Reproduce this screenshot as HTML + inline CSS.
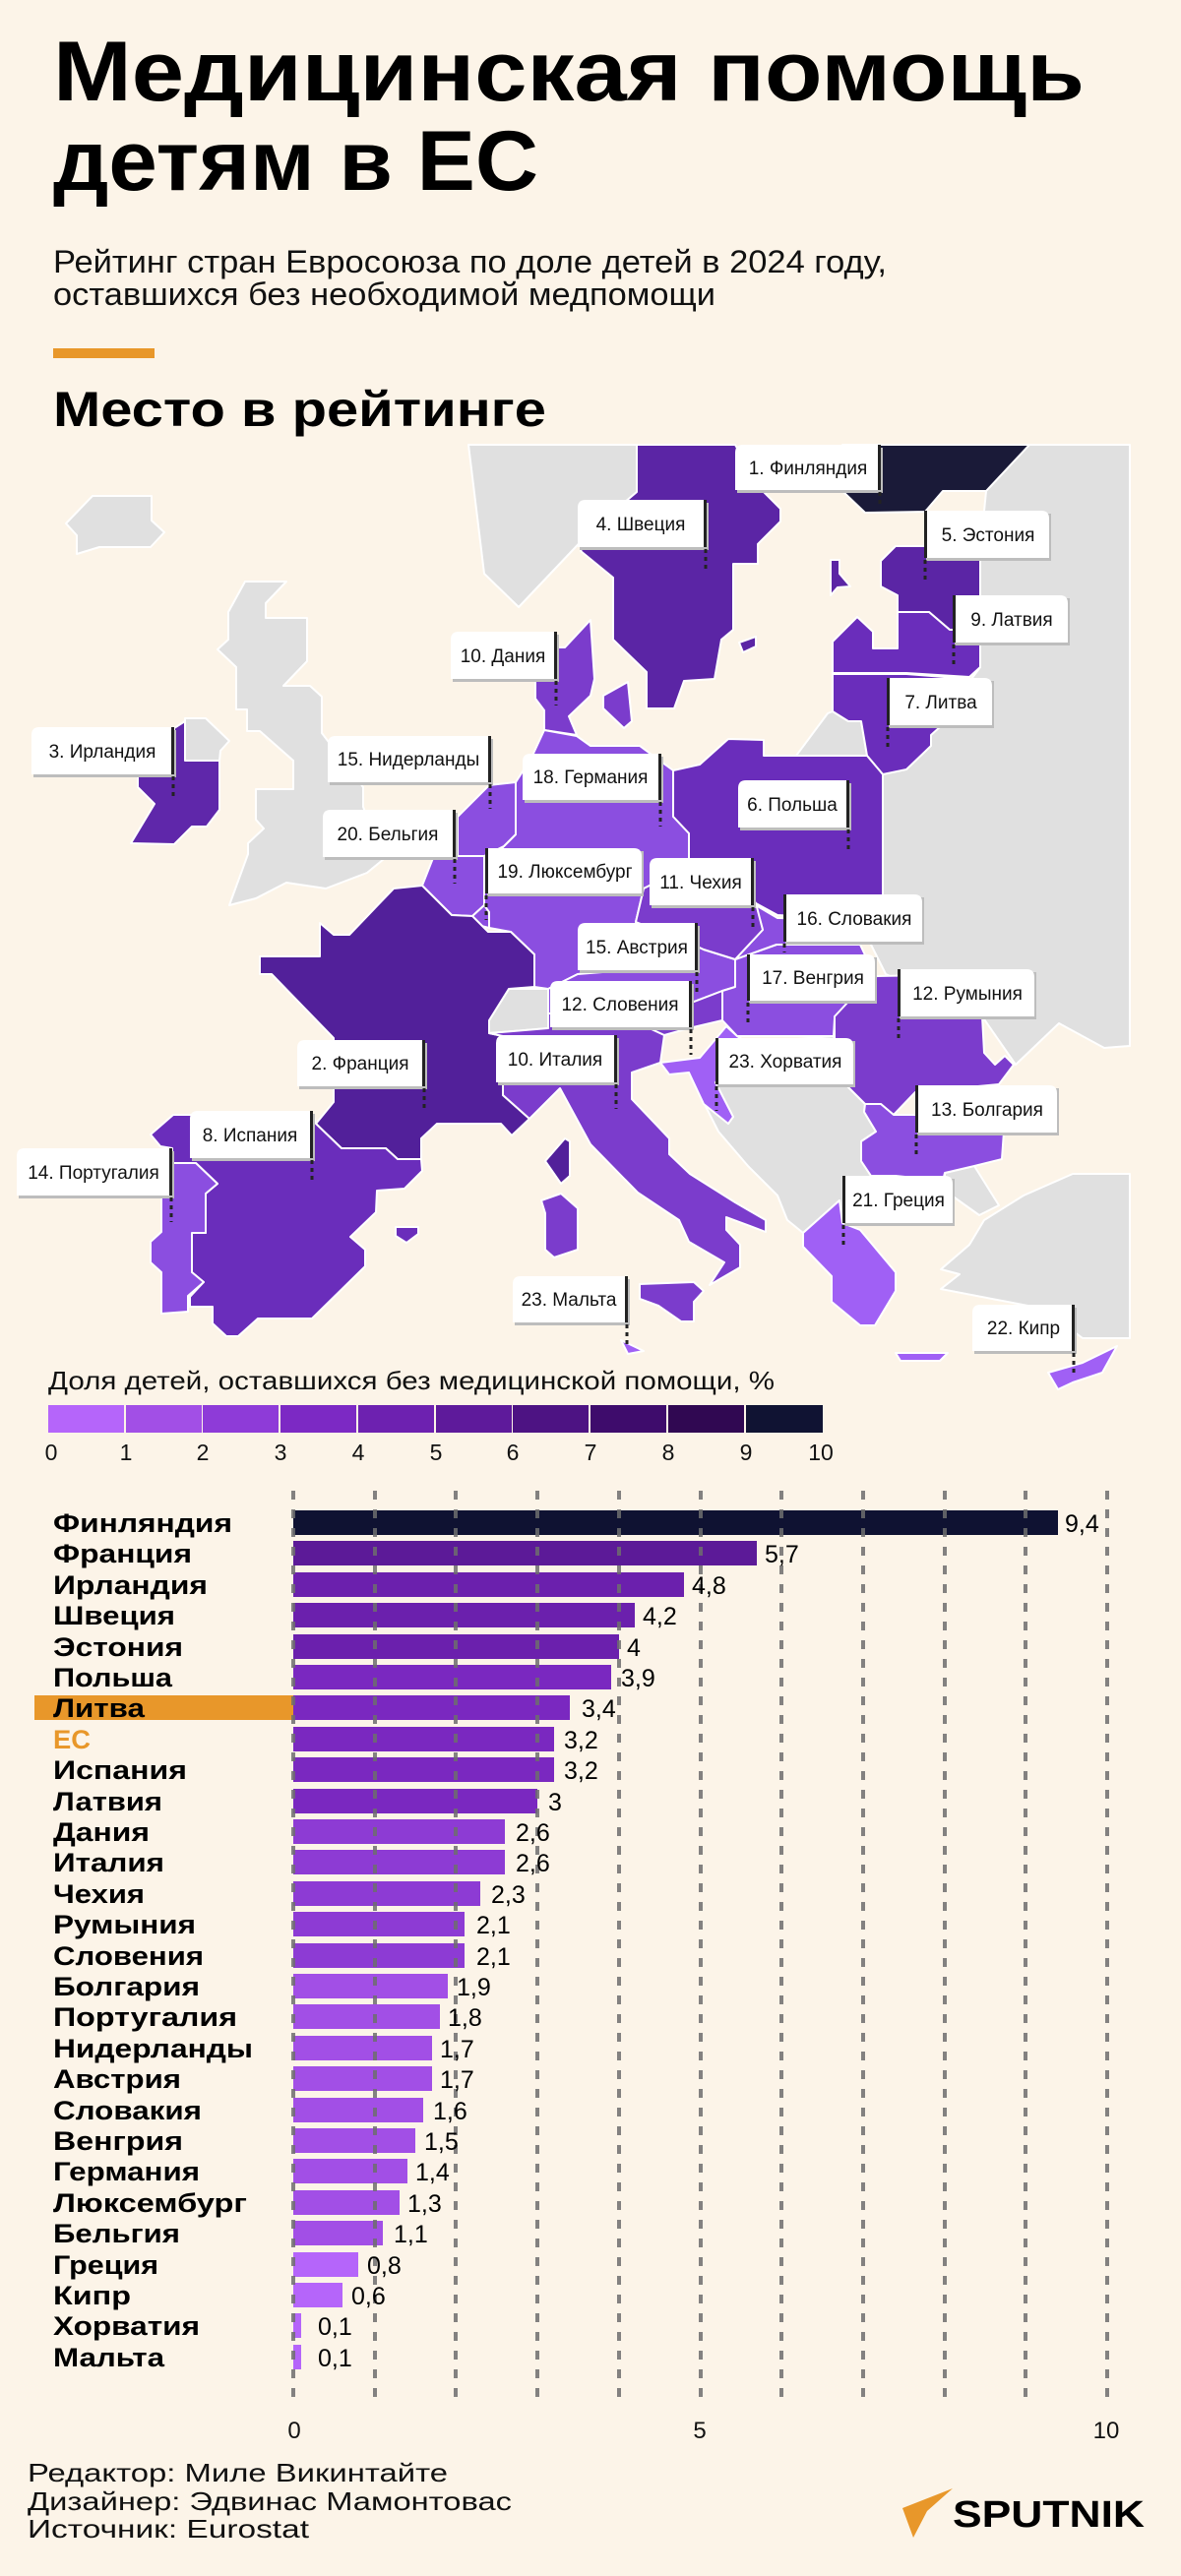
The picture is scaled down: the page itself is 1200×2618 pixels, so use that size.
<!DOCTYPE html>
<html><head><meta charset="utf-8">
<style>
html,body{margin:0;padding:0;background:#fcf4e8;}
svg{display:block;}
text{font-family:"Liberation Sans","DejaVu Sans",sans-serif;}
</style></head>
<body>
<svg width="1200" height="2618" viewBox="0 0 1200 2618" xmlns="http://www.w3.org/2000/svg">
<rect width="1200" height="2618" fill="#fcf4e8"/>

<!-- Title -->
<text x="54" y="102" font-size="86" font-weight="bold" fill="#000" textLength="1048" lengthAdjust="spacingAndGlyphs">Медицинская помощь</text>
<text x="54" y="193" font-size="86" font-weight="bold" fill="#000" textLength="493" lengthAdjust="spacingAndGlyphs">детям в ЕС</text>
<text x="54" y="277" font-size="32" fill="#111" textLength="847" lengthAdjust="spacingAndGlyphs">Рейтинг стран Евросоюза по доле детей в 2024 году,</text>
<text x="54" y="310" font-size="32" fill="#111" textLength="673" lengthAdjust="spacingAndGlyphs">оставшихся без необходимой медпомощи</text>
<rect x="54" y="354" width="103" height="10" fill="#e8972a"/>
<text x="54" y="433" font-size="50" font-weight="bold" fill="#000" textLength="501" lengthAdjust="spacingAndGlyphs">Место в рейтинге</text>

<!-- MAP -->
<g stroke="#fff" stroke-width="2" stroke-linejoin="round">
<!-- gray countries -->
<polygon fill="#e0e0e0" points="1002,499 1046,452 1148,452 1148,1063 1122,1065 1076,1040 1032,1082 998,1033 900,990 880,950 880,787 950,740 996,678 996,560"/>
<polygon fill="#e0e0e0" points="67,532 94,504 154,504 154,529 167,541 153,556 101,556 78,563 78,544"/>
<polygon fill="#e0e0e0" points="249,591 291,591 270,613 270,628 312,628 312,672 288,697 315,697 327,708 327,745 369,800 369,820 390,873 373,887 331,903 291,897 260,913 233,920 252,868 252,857 268,842 260,833 260,802 298,802 298,773 264,743 251,743 251,721 240,721 240,678 221,660 232,650 232,622"/>
<polygon fill="#e0e0e0" points="476,452 647,452 647,500 600,540 527,617 492,583"/>
<polygon fill="#e0e0e0" points="846,723 862,733 875,733 881,768 809,768 841,725"/>
<polygon fill="#e0e0e0" points="497,1037 517,1005 557,1005 557,1045 497,1050"/>
<polygon fill="#e0e0e0" points="702,1095 727,1100 760,1060 847,1053 860,1103 879,1122 878,1130 890,1150 875,1160 875,1180 885,1195 856,1243 853,1220 816,1253 800,1240 790,1215 760,1185 730,1150"/>
<polygon fill="#e0e0e0" points="960,1192 990,1185 1015,1225 995,1235 960,1210"/>
<polygon fill="#e0e0e0" points="956,1290 985,1265 1000,1240 1040,1215 1090,1193 1148,1193 1148,1360 1100,1360 1060,1330 956,1310 975,1295"/>
<polygon fill="#e0e0e0" points="188,730 209,730 233,753 224,763 223,773 188,773"/>
<!-- EU -->
<polygon fill="#1a1a38" points="856,452 1046,452 1002,499 958,499 940,520 879,521 856,499"/>
<polygon fill="#5b25a5" points="647,452 747,452 774,498 793,517 793,530 770,553 770,573 745,573 745,640 733,650 726,690 695,692 685,720 657,720 657,683 623,650 623,587 590,560 600,540 647,500"/>
<polygon fill="#5b25a5" points="751,653 768,647 768,657 755,663"/>
<polygon fill="#5b25a5" points="910,555 996,555 996,640 965,640 944,622 912,622 912,605 895,596 895,570"/>
<polygon fill="#5b25a5" points="844,569 853,569 853,583 864,596 851,597 844,605"/>
<polygon fill="#6a2dbb" points="846,652 871,627 887,642 887,659 912,659 912,622 944,622 965,640 996,640 996,678 985,688 921,684 846,684"/>
<polygon fill="#6a2dbb" points="846,685 921,685 985,690 956,738 946,747 946,758 921,782 897,787 881,768 875,733 862,733 846,723"/>
<polygon fill="#6a2dbb" points="684,783 711,777 740,751 776,752 776,768 881,768 897,787 897,930 874,935 790,930 768,918 760,905 740,900 700,880 700,847 684,830"/>
<polygon fill="#5f27aa" points="188,733 188,773 223,773 223,823 210,840 195,840 177,858 133,857 157,817 140,800 140,787 177,787 177,740"/>
<polygon fill="#7b3ccc" points="544,690 566,690 566,658 574,658 600,630 604,690 600,707 578,728 586,747 553,742 553,722 544,710"/>
<polygon fill="#7b3ccc" points="613,707 638,693 642,733 634,740 613,720"/>
<polygon fill="#8b4ee0" points="553,742 586,748 600,758 650,758 684,783 684,830 700,847 700,880 654,903 646,937 650,985 587,990 557,1005 543,1003 543,970 519,947 497,943 492,920 492,883 512,860 524,848 524,795 540,770"/>
<polygon fill="#8b4ee0" points="465,830 497,798 524,795 524,848 512,860 492,870 465,870"/>
<polygon fill="#8b4ee0" points="440,872 465,870 492,870 492,920 480,931 459,930 429,900"/>
<polygon fill="#8b4ee0" points="480,931 492,920 497,927 497,943 485,940"/>
<polygon fill="#52209a" points="325,938 339,950 355,950 400,903 429,900 459,930 480,931 496,947 519,947 543,970 543,1003 517,1005 497,1037 497,1050 511,1053 511,1113 538,1137 520,1154 509,1142 444,1142 428,1157 428,1178 404,1178 392,1167 347,1167 321,1142 339,1120 339,1055 276,990 264,990 264,972 325,972"/>
<polygon fill="#52209a" points="554,1180 574,1157 579,1160 579,1195 570,1203"/>
<polygon fill="#6a2dbb" points="321,1142 347,1167 392,1167 404,1178 428,1178 429,1190 411,1208 383,1210 382,1232 356,1257 371,1270 371,1287 317,1340 262,1340 242,1358 230,1358 216,1345 216,1328 193,1328 193,1318 207,1303 195,1293 195,1253 209,1253 209,1213 221,1203 199,1182 175,1182 175,1167 163,1165 153,1153 176,1133 318,1133"/>
<polygon fill="#8b4ee0" points="175,1182 199,1182 221,1203 209,1213 209,1253 195,1253 195,1293 207,1303 191,1317 191,1333 164,1335 164,1293 153,1283 153,1262 164,1252 164,1215"/>
<polygon fill="#6a2dbb" points="402,1247 425,1247 425,1254 413,1263 402,1256"/>
<polygon fill="#7b3ccc" points="550,1220 570,1213 587,1228 587,1270 563,1278 554,1270 554,1233"/>
<polygon fill="#7b3ccc" points="497,1050 557,1045 557,1030 600,1030 660,1045 675,1052 671,1080 642,1090 642,1117 680,1157 680,1173 701,1193 747,1222 778,1240 778,1252 738,1237 738,1250 752,1265 752,1288 721,1306 736,1283 700,1262 690,1240 648,1212 600,1163 569,1106 538,1137 511,1113 511,1053"/>
<polygon fill="#7b3ccc" points="650,1305 705,1303 715,1312 705,1323 705,1343 692,1343 669,1327 650,1320"/>
<polygon fill="#a060f5" points="631,1362 654,1373 638,1376"/>
<polygon fill="#8b4ee0" points="587,990 650,985 700,958 715,965 747,975 747,1003 734,1007 700,1020 660,1022 600,1030 557,1030 557,1005"/>
<polygon fill="#7b3ccc" points="660,1022 700,1020 734,1007 734,1037 700,1045 675,1052 660,1045"/>
<polygon fill="#a060f5" points="671,1080 711,1075 738,1043 749,1053 760,1060 727,1100 745,1135 740,1142 715,1122 700,1090 680,1092"/>
<polygon fill="#8b4ee0" points="747,975 789,960 874,960 889,992 862,1018 848,1035 847,1053 749,1053 734,1037 734,1007 747,1003"/>
<polygon fill="#8b4ee0" points="768,920 790,933 897,935 874,960 789,960 747,975 775,945"/>
<polygon fill="#7b3ccc" points="654,903 700,880 740,900 768,918 775,945 747,975 715,965 700,958 646,937"/>
<polygon fill="#7b3ccc" points="891,992 998,990 998,1033 1000,1070 1011,1082 1021,1073 1030,1082 1015,1102 930,1110 908,1133 895,1122 879,1122 860,1103 848,1055 848,1033 862,1018"/>
<polygon fill="#8b4ee0" points="879,1122 895,1122 908,1133 930,1133 1015,1102 1020,1150 1018,1178 990,1185 960,1192 958,1200 910,1195 885,1195 875,1180 875,1160 890,1150 878,1130"/>
<polygon fill="#a060f5" points="816,1253 853,1220 856,1243 874,1250 910,1293 910,1312 889,1347 874,1347 845,1323 845,1297 816,1267"/>
<polygon fill="#a060f5" points="910,1375 963,1375 955,1383 915,1383"/>
<polygon fill="#a060f5" points="1065,1395 1100,1385 1135,1368 1120,1395 1090,1405 1075,1412"/>
</g>

<!-- Map labels -->
<g font-size="19" fill="#111">
<!-- template: shadow, box, border, leader -->
<g><rect x="749" y="455" width="148" height="46" fill="#bdbdbd"/><path d="M755,452 H895 V498 H747 V460 Q747,452 755,452Z" fill="#fff"/><rect x="892" y="452" width="3" height="46" fill="#222"/><line x1="894" y1="500" x2="894" y2="512" stroke="#222" stroke-width="3" stroke-dasharray="4 4"/><text x="821" y="482" text-anchor="middle">1. Финляндия</text></g>
<g><rect x="589" y="511" width="131" height="48" fill="#bdbdbd"/><path d="M595,508 H718 V556 H587 V516 Q587,508 595,508Z" fill="#fff"/><rect x="715" y="508" width="3" height="48" fill="#222"/><line x1="717" y1="558" x2="717" y2="582" stroke="#222" stroke-width="3" stroke-dasharray="4 4"/><text x="651" y="539" text-anchor="middle">4. Швеция</text></g>
<g><rect x="941" y="522" width="127" height="48" fill="#bdbdbd"/><path d="M939,519 H1058 Q1066,519 1066,527 V567 H939Z" fill="#fff"/><rect x="939" y="519" width="3" height="48" fill="#222"/><line x1="940" y1="569" x2="940" y2="593" stroke="#222" stroke-width="3" stroke-dasharray="4 4"/><text x="1004" y="550" text-anchor="middle">5. Эстония</text></g>
<g><rect x="970" y="608" width="117" height="48" fill="#bdbdbd"/><path d="M968,605 H1077 Q1085,605 1085,613 V653 H968Z" fill="#fff"/><rect x="968" y="605" width="3" height="48" fill="#222"/><line x1="969" y1="655" x2="969" y2="679" stroke="#222" stroke-width="3" stroke-dasharray="4 4"/><text x="1028" y="636" text-anchor="middle">9. Латвия</text></g>
<g><rect x="903" y="692" width="107" height="48" fill="#bdbdbd"/><path d="M901,689 H1000 Q1008,689 1008,697 V737 H901Z" fill="#fff"/><rect x="901" y="689" width="3" height="48" fill="#222"/><line x1="902" y1="739" x2="902" y2="763" stroke="#222" stroke-width="3" stroke-dasharray="4 4"/><text x="956" y="720" text-anchor="middle">7. Литва</text></g>
<g><rect x="460" y="645" width="108" height="48" fill="#bdbdbd"/><path d="M466,642 H566 V690 H458 V650 Q458,642 466,642Z" fill="#fff"/><rect x="563" y="642" width="3" height="48" fill="#222"/><line x1="565" y1="692" x2="565" y2="717" stroke="#222" stroke-width="3" stroke-dasharray="4 4"/><text x="511" y="673" text-anchor="middle">10. Дания</text></g>
<g><rect x="34" y="742" width="145" height="48" fill="#bdbdbd"/><path d="M40,739 H177 V787 H32 V747 Q32,739 40,739Z" fill="#fff"/><rect x="174" y="739" width="3" height="48" fill="#222"/><line x1="176" y1="789" x2="176" y2="813" stroke="#222" stroke-width="3" stroke-dasharray="4 4"/><text x="104" y="770" text-anchor="middle">3. Ирландия</text></g>
<g><rect x="335" y="751" width="166" height="47" fill="#bdbdbd"/><path d="M341,748 H499 V795 H333 V756 Q333,748 341,748Z" fill="#fff"/><rect x="496" y="748" width="3" height="47" fill="#222"/><line x1="498" y1="797" x2="498" y2="822" stroke="#222" stroke-width="3" stroke-dasharray="4 4"/><text x="415" y="778" text-anchor="middle">15. Нидерланды</text></g>
<g><rect x="533" y="769" width="141" height="47" fill="#bdbdbd"/><path d="M539,766 H672 V813 H531 V774 Q531,766 539,766Z" fill="#fff"/><rect x="669" y="766" width="3" height="47" fill="#222"/><line x1="671" y1="815" x2="671" y2="840" stroke="#222" stroke-width="3" stroke-dasharray="4 4"/><text x="600" y="796" text-anchor="middle">18. Германия</text></g>
<g><rect x="752" y="796" width="113" height="48" fill="#bdbdbd"/><path d="M758,793 H863 V841 H750 V801 Q750,793 758,793Z" fill="#fff"/><rect x="860" y="793" width="3" height="48" fill="#222"/><line x1="862" y1="843" x2="862" y2="867" stroke="#222" stroke-width="3" stroke-dasharray="4 4"/><text x="805" y="824" text-anchor="middle">6. Польша</text></g>
<g><rect x="330" y="826" width="135" height="48" fill="#bdbdbd"/><path d="M336,823 H463 V871 H328 V831 Q328,823 336,823Z" fill="#fff"/><rect x="460" y="823" width="3" height="48" fill="#222"/><line x1="462" y1="873" x2="462" y2="898" stroke="#222" stroke-width="3" stroke-dasharray="4 4"/><text x="394" y="854" text-anchor="middle">20. Бельгия</text></g>
<g><rect x="495" y="865" width="159" height="46" fill="#bdbdbd"/><path d="M493,862 H644 Q652,862 652,870 V908 H493Z" fill="#fff"/><rect x="493" y="862" width="3" height="46" fill="#222"/><line x1="494" y1="910" x2="494" y2="935" stroke="#222" stroke-width="3" stroke-dasharray="4 4"/><text x="574" y="892" text-anchor="middle">19. Люксембург</text></g>
<g><rect x="662" y="875" width="106" height="48" fill="#bdbdbd"/><path d="M668,872 H766 V920 H660 V880 Q660,872 668,872Z" fill="#fff"/><rect x="763" y="872" width="3" height="48" fill="#222"/><line x1="765" y1="922" x2="765" y2="945" stroke="#222" stroke-width="3" stroke-dasharray="4 4"/><text x="712" y="903" text-anchor="middle">11. Чехия</text></g>
<g><rect x="798" y="912" width="141" height="48" fill="#bdbdbd"/><path d="M796,909 H929 Q937,909 937,917 V957 H796Z" fill="#fff"/><rect x="796" y="909" width="3" height="48" fill="#222"/><line x1="797" y1="959" x2="797" y2="968" stroke="#222" stroke-width="3" stroke-dasharray="4 4"/><text x="868" y="940" text-anchor="middle">16. Словакия</text></g>
<g><rect x="589" y="941" width="122" height="48" fill="#bdbdbd"/><path d="M595,938 H709 V986 H587 V946 Q587,938 595,938Z" fill="#fff"/><rect x="706" y="938" width="3" height="48" fill="#222"/><line x1="708" y1="988" x2="708" y2="1012" stroke="#222" stroke-width="3" stroke-dasharray="4 4"/><text x="647" y="969" text-anchor="middle">15. Австрия</text></g>
<g><rect x="761" y="973" width="130" height="47" fill="#bdbdbd"/><path d="M759,970 H881 Q889,970 889,978 V1017 H759Z" fill="#fff"/><rect x="759" y="970" width="3" height="47" fill="#222"/><line x1="760" y1="1019" x2="760" y2="1043" stroke="#222" stroke-width="3" stroke-dasharray="4 4"/><text x="826" y="1000" text-anchor="middle">17. Венгрия</text></g>
<g><rect x="561" y="1000" width="144" height="47" fill="#bdbdbd"/><path d="M567,997 H703 V1044 H559 V1005 Q559,997 567,997Z" fill="#fff"/><rect x="700" y="997" width="3" height="47" fill="#222"/><line x1="702" y1="1046" x2="702" y2="1072" stroke="#222" stroke-width="3" stroke-dasharray="4 4"/><text x="630" y="1027" text-anchor="middle">12. Словения</text></g>
<g><rect x="914" y="988" width="139" height="48" fill="#bdbdbd"/><path d="M912,985 H1043 Q1051,985 1051,993 V1033 H912Z" fill="#fff"/><rect x="912" y="985" width="3" height="48" fill="#222"/><line x1="913" y1="1035" x2="913" y2="1059" stroke="#222" stroke-width="3" stroke-dasharray="4 4"/><text x="983" y="1016" text-anchor="middle">12. Румыния</text></g>
<g><rect x="304" y="1060" width="130" height="47" fill="#bdbdbd"/><path d="M310,1057 H432 V1104 H302 V1065 Q302,1057 310,1057Z" fill="#fff"/><rect x="429" y="1057" width="3" height="47" fill="#222"/><line x1="431" y1="1106" x2="431" y2="1130" stroke="#222" stroke-width="3" stroke-dasharray="4 4"/><text x="366" y="1087" text-anchor="middle">2. Франция</text></g>
<g><rect x="506" y="1055" width="123" height="48" fill="#bdbdbd"/><path d="M512,1052 H627 V1100 H504 V1060 Q504,1052 512,1052Z" fill="#fff"/><rect x="624" y="1052" width="3" height="48" fill="#222"/><line x1="626" y1="1102" x2="626" y2="1127" stroke="#222" stroke-width="3" stroke-dasharray="4 4"/><text x="564" y="1083" text-anchor="middle">10. Италия</text></g>
<g><rect x="729" y="1058" width="140" height="47" fill="#bdbdbd"/><path d="M727,1055 H859 Q867,1055 867,1063 V1102 H727Z" fill="#fff"/><rect x="727" y="1055" width="3" height="47" fill="#222"/><line x1="728" y1="1104" x2="728" y2="1129" stroke="#222" stroke-width="3" stroke-dasharray="4 4"/><text x="798" y="1085" text-anchor="middle">23. Хорватия</text></g>
<g><rect x="932" y="1106" width="144" height="48" fill="#bdbdbd"/><path d="M930,1103 H1066 Q1074,1103 1074,1111 V1151 H930Z" fill="#fff"/><rect x="930" y="1103" width="3" height="48" fill="#222"/><line x1="931" y1="1153" x2="931" y2="1177" stroke="#222" stroke-width="3" stroke-dasharray="4 4"/><text x="1003" y="1134" text-anchor="middle">13. Болгария</text></g>
<g><rect x="195" y="1132" width="125" height="48" fill="#bdbdbd"/><path d="M201,1129 H318 V1177 H193 V1137 Q193,1129 201,1129Z" fill="#fff"/><rect x="315" y="1129" width="3" height="48" fill="#222"/><line x1="317" y1="1179" x2="317" y2="1203" stroke="#222" stroke-width="3" stroke-dasharray="4 4"/><text x="254" y="1160" text-anchor="middle">8. Испания</text></g>
<g><rect x="19" y="1170" width="158" height="48" fill="#bdbdbd"/><path d="M25,1167 H175 V1215 H17 V1175 Q17,1167 25,1167Z" fill="#fff"/><rect x="172" y="1167" width="3" height="48" fill="#222"/><line x1="174" y1="1217" x2="174" y2="1242" stroke="#222" stroke-width="3" stroke-dasharray="4 4"/><text x="95" y="1198" text-anchor="middle">14. Португалия</text></g>
<g><rect x="858" y="1198" width="112" height="48" fill="#bdbdbd"/><path d="M856,1195 H960 Q968,1195 968,1203 V1243 H856Z" fill="#fff"/><rect x="856" y="1195" width="3" height="48" fill="#222"/><line x1="857" y1="1245" x2="857" y2="1269" stroke="#222" stroke-width="3" stroke-dasharray="4 4"/><text x="913" y="1226" text-anchor="middle">21. Греция</text></g>
<g><rect x="523" y="1300" width="117" height="47" fill="#bdbdbd"/><path d="M529,1297 H638 V1344 H521 V1305 Q521,1297 529,1297Z" fill="#fff"/><rect x="635" y="1297" width="3" height="47" fill="#222"/><line x1="637" y1="1346" x2="637" y2="1370" stroke="#222" stroke-width="3" stroke-dasharray="4 4"/><text x="578" y="1327" text-anchor="middle">23. Мальта</text></g>
<g><rect x="990" y="1329" width="104" height="47" fill="#bdbdbd"/><path d="M996,1326 H1092 V1373 H988 V1334 Q988,1326 996,1326Z" fill="#fff"/><rect x="1089" y="1326" width="3" height="47" fill="#222"/><line x1="1091" y1="1375" x2="1091" y2="1395" stroke="#222" stroke-width="3" stroke-dasharray="4 4"/><text x="1040" y="1356" text-anchor="middle">22. Кипр</text></g>
</g>

<!-- Legend -->
<text x="49" y="1412" font-size="26" fill="#111" textLength="738" lengthAdjust="spacingAndGlyphs">Доля детей, оставшихся без медицинской помощи, %</text>
<g>
<rect x="49" y="1428" width="77" height="28" fill="#b565fa"/>
<rect x="128" y="1428" width="77" height="28" fill="#a24fe6"/>
<rect x="206" y="1428" width="77" height="28" fill="#8e3bd8"/>
<rect x="285" y="1428" width="77" height="28" fill="#7c29c4"/>
<rect x="364" y="1428" width="77" height="28" fill="#6d21b0"/>
<rect x="443" y="1428" width="77" height="28" fill="#5e1a9b"/>
<rect x="521" y="1428" width="77" height="28" fill="#4d1383"/>
<rect x="600" y="1428" width="77" height="28" fill="#3e0c6c"/>
<rect x="679" y="1428" width="77" height="28" fill="#300852"/>
<rect x="758" y="1428" width="78" height="28" fill="#101333"/>
</g>
<g font-size="23" fill="#111" text-anchor="middle">
<text x="52" y="1484">0</text><text x="128" y="1484">1</text><text x="206" y="1484">2</text><text x="285" y="1484">3</text><text x="364" y="1484">4</text><text x="443" y="1484">5</text><text x="521" y="1484">6</text><text x="600" y="1484">7</text><text x="679" y="1484">8</text><text x="758" y="1484">9</text><text x="834" y="1484">10</text>
</g>

<!-- Bar chart -->
<rect x="35" y="1723" width="263" height="25" fill="#e8972a"/>
<g>
<rect x="298" y="1535" width="777" height="25" fill="#0f1232"/>
<rect x="298" y="1566" width="471" height="25" fill="#5c1a98"/>
<rect x="298" y="1598" width="397" height="25" fill="#6b20ad"/>
<rect x="298" y="1629" width="347" height="25" fill="#6b20ad"/>
<rect x="298" y="1661" width="331" height="25" fill="#6b20ad"/>
<rect x="298" y="1692" width="323" height="25" fill="#7a28c0"/>
<rect x="298" y="1723" width="281" height="25" fill="#7a28c0"/>
<rect x="298" y="1755" width="265" height="25" fill="#7a28c0"/>
<rect x="298" y="1786" width="265" height="25" fill="#7a28c0"/>
<rect x="298" y="1818" width="248" height="25" fill="#7a28c0"/>
<rect x="298" y="1849" width="215" height="25" fill="#8d3bd4"/>
<rect x="298" y="1880" width="215" height="25" fill="#8d3bd4"/>
<rect x="298" y="1912" width="190" height="25" fill="#8d3bd4"/>
<rect x="298" y="1943" width="174" height="25" fill="#8d3bd4"/>
<rect x="298" y="1975" width="174" height="25" fill="#8d3bd4"/>
<rect x="298" y="2006" width="157" height="25" fill="#a24fe6"/>
<rect x="298" y="2037" width="149" height="25" fill="#a24fe6"/>
<rect x="298" y="2069" width="141" height="25" fill="#a24fe6"/>
<rect x="298" y="2100" width="141" height="25" fill="#a24fe6"/>
<rect x="298" y="2132" width="132" height="25" fill="#a24fe6"/>
<rect x="298" y="2163" width="124" height="25" fill="#a24fe6"/>
<rect x="298" y="2194" width="116" height="25" fill="#a24fe6"/>
<rect x="298" y="2226" width="108" height="25" fill="#a24fe6"/>
<rect x="298" y="2257" width="91" height="25" fill="#a24fe6"/>
<rect x="298" y="2289" width="66" height="25" fill="#b565fa"/>
<rect x="298" y="2320" width="50" height="25" fill="#b565fa"/>
<rect x="298" y="2351" width="8" height="25" fill="#b565fa"/>
<rect x="298" y="2383" width="8" height="25" fill="#b565fa"/>
</g>
<g stroke="#6e6e6e" stroke-width="4" stroke-dasharray="9 10" opacity="0.85">
<line x1="298" y1="1515" x2="298" y2="2443"/><line x1="381" y1="1515" x2="381" y2="2443"/><line x1="463" y1="1515" x2="463" y2="2443"/><line x1="546" y1="1515" x2="546" y2="2443"/><line x1="629" y1="1515" x2="629" y2="2443"/><line x1="712" y1="1515" x2="712" y2="2443"/><line x1="794" y1="1515" x2="794" y2="2443"/><line x1="877" y1="1515" x2="877" y2="2443"/><line x1="960" y1="1515" x2="960" y2="2443"/><line x1="1042" y1="1515" x2="1042" y2="2443"/><line x1="1125" y1="1515" x2="1125" y2="2443"/>
</g>
<g font-size="27" font-weight="bold" fill="#000" lengthAdjust="spacingAndGlyphs">
<text x="54" y="1557" textLength="182" lengthAdjust="spacingAndGlyphs">Финляндия</text>
<text x="54" y="1588" textLength="141" lengthAdjust="spacingAndGlyphs">Франция</text>
<text x="54" y="1620" textLength="157" lengthAdjust="spacingAndGlyphs">Ирландия</text>
<text x="54" y="1651" textLength="124" lengthAdjust="spacingAndGlyphs">Швеция</text>
<text x="54" y="1683" textLength="132" lengthAdjust="spacingAndGlyphs">Эстония</text>
<text x="54" y="1714" textLength="121" lengthAdjust="spacingAndGlyphs">Польша</text>
<text x="54" y="1745" textLength="93" lengthAdjust="spacingAndGlyphs">Литва</text>
<text x="54" y="1777" textLength="38" lengthAdjust="spacingAndGlyphs" fill="#e8972a">ЕС</text>
<text x="54" y="1808" textLength="136" lengthAdjust="spacingAndGlyphs">Испания</text>
<text x="54" y="1840" textLength="111" lengthAdjust="spacingAndGlyphs">Латвия</text>
<text x="54" y="1871" textLength="98" lengthAdjust="spacingAndGlyphs">Дания</text>
<text x="54" y="1902" textLength="113" lengthAdjust="spacingAndGlyphs">Италия</text>
<text x="54" y="1934" textLength="93" lengthAdjust="spacingAndGlyphs">Чехия</text>
<text x="54" y="1965" textLength="145" lengthAdjust="spacingAndGlyphs">Румыния</text>
<text x="54" y="1997" textLength="153" lengthAdjust="spacingAndGlyphs">Словения</text>
<text x="54" y="2028" textLength="149" lengthAdjust="spacingAndGlyphs">Болгария</text>
<text x="54" y="2059" textLength="187" lengthAdjust="spacingAndGlyphs">Португалия</text>
<text x="54" y="2091" textLength="203" lengthAdjust="spacingAndGlyphs">Нидерланды</text>
<text x="54" y="2122" textLength="130" lengthAdjust="spacingAndGlyphs">Австрия</text>
<text x="54" y="2154" textLength="151" lengthAdjust="spacingAndGlyphs">Словакия</text>
<text x="54" y="2185" textLength="132" lengthAdjust="spacingAndGlyphs">Венгрия</text>
<text x="54" y="2216" textLength="149" lengthAdjust="spacingAndGlyphs">Германия</text>
<text x="54" y="2248" textLength="197" lengthAdjust="spacingAndGlyphs">Люксембург</text>
<text x="54" y="2279" textLength="129" lengthAdjust="spacingAndGlyphs">Бельгия</text>
<text x="54" y="2311" textLength="107" lengthAdjust="spacingAndGlyphs">Греция</text>
<text x="54" y="2342" textLength="79" lengthAdjust="spacingAndGlyphs">Кипр</text>
<text x="54" y="2373" textLength="149" lengthAdjust="spacingAndGlyphs">Хорватия</text>
<text x="54" y="2405" textLength="113" lengthAdjust="spacingAndGlyphs">Мальта</text>
</g>
<g font-size="25" fill="#000">
<text x="1082" y="1557">9,4</text>
<text x="777" y="1588">5,7</text>
<text x="703" y="1620">4,8</text>
<text x="653" y="1651">4,2</text>
<text x="637" y="1683">4</text>
<text x="631" y="1714">3,9</text>
<text x="591" y="1745">3,4</text>
<text x="573" y="1777">3,2</text>
<text x="573" y="1808">3,2</text>
<text x="557" y="1840">3</text>
<text x="524" y="1871">2,6</text>
<text x="524" y="1902">2,6</text>
<text x="499" y="1934">2,3</text>
<text x="484" y="1965">2,1</text>
<text x="484" y="1997">2,1</text>
<text x="464" y="2028">1,9</text>
<text x="455" y="2059">1,8</text>
<text x="447" y="2091">1,7</text>
<text x="447" y="2122">1,7</text>
<text x="440" y="2154">1,6</text>
<text x="431" y="2185">1,5</text>
<text x="422" y="2216">1,4</text>
<text x="414" y="2248">1,3</text>
<text x="400" y="2279">1,1</text>
<text x="373" y="2311">0,8</text>
<text x="357" y="2342">0,6</text>
<text x="323" y="2373">0,1</text>
<text x="323" y="2405">0,1</text>
</g>
<g font-size="24" fill="#111" text-anchor="middle">
<text x="299" y="2478">0</text><text x="711" y="2478">5</text><text x="1124" y="2478">10</text>
</g>

<!-- Footer -->
<g font-size="26" fill="#111">
<text x="28" y="2522" textLength="427" lengthAdjust="spacingAndGlyphs">Редактор: Миле Викинтайте</text>
<text x="28" y="2551" textLength="492" lengthAdjust="spacingAndGlyphs">Дизайнер: Эдвинас Мамонтовас</text>
<text x="28" y="2579" textLength="286" lengthAdjust="spacingAndGlyphs">Источник: Eurostat</text>
</g>
<polygon points="917,2549 968,2529 942,2552 928,2579" fill="#e8972a"/>
<text x="968" y="2568" font-size="38" font-weight="bold" fill="#000" textLength="195" lengthAdjust="spacingAndGlyphs">SPUTNIK</text>
</svg>
</body></html>
